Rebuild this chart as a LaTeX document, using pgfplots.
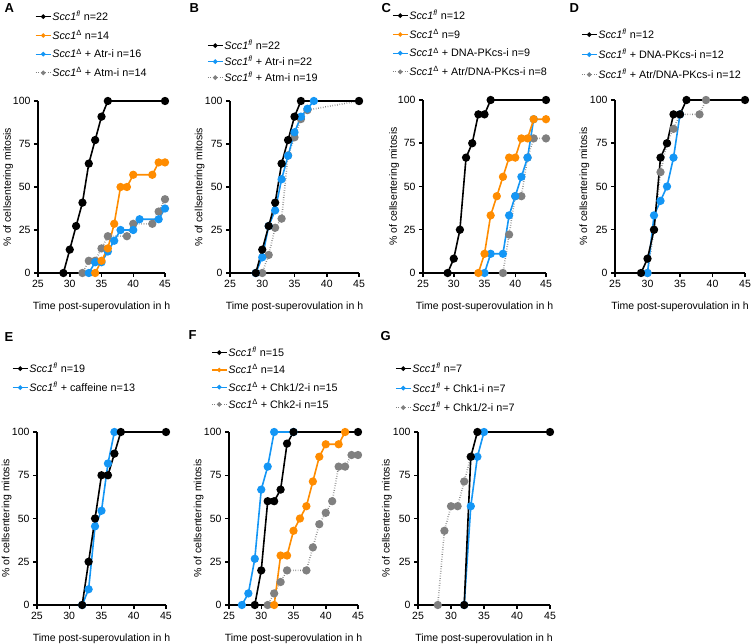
\documentclass[border=0pt]{standalone}
\usepackage{fontspec}
\setmainfont{Liberation Sans}
\usepackage{pgfplots}
\pgfplotsset{compat=1.18}
\definecolor{corg}{RGB}{255,140,0}
\definecolor{cblu}{RGB}{20,150,245}
\definecolor{cgry}{RGB}{128,128,128}
\newcommand{\fl}{\textit{Scc1}\textsuperscript{\textit{fl}}}
\newcommand{\dl}{\textit{Scc1}\textsuperscript{Δ}}
\pgfplotsset{
  panel/.style={
    scale only axis, anchor=south west,
    axis x line*=bottom, axis y line*=left,
    xmin=25, xmax=45, ymin=0, ymax=100,
    xtick={25,30,35,40,45}, ytick={0,25,50,75,100},
    tick align=outside, major tick length=4pt,
    axis line style={line width=1.8pt},
    every tick/.style={black, line width=1.5pt},
    clip=false,
    /pgf/number format/assume math mode=true,
    tick label style={font=\fontsize{10.5}{12}\selectfont},
    label style={font=\fontsize{10.5}{12}\selectfont},
    xlabel={Time post-superovulation in h},
    ylabel={\% of cellsentering mitosis},
    xlabel style={at={(axis description cs:0.5,-0.197)}, anchor=center},
    ylabel style={at={(axis description cs:-0.235,0.5)}, anchor=center},
    legend style={draw=none, fill=none, font=\fontsize{10.8}{12}\selectfont,
      at={(0,1)}, anchor=north west, inner sep=0pt, nodes={inner sep=1pt}},
    legend cell align=left,
    reverse legend,
    legend image code/.code={\draw[mark repeat=2,mark phase=2,##1, line width=1.1pt, mark size=1.7pt] plot coordinates {(0pt,0pt) (7.5pt,0pt) (15pt,0pt)};},
  },
  sblk/.style={black, line width=1.6pt, mark=*, mark size=3.3pt},
  sorg/.style={corg, line width=1.6pt, mark=*, mark size=3.3pt},
  sblu/.style={cblu, line width=1.6pt, mark=*, mark size=3.3pt},
  sgry/.style={cgry, line width=1.6pt, dash pattern=on 0.6pt off 1.8pt, mark=*, mark size=3.3pt, mark options={solid}},
}
\begin{document}
\begin{tikzpicture}
\path[use as bounding box] (0,0) rectangle (751pt,643pt);
\node[anchor=west, font=\bfseries\fontsize{13}{14}\selectfont] at (1pt,635pt) {A};
\node[anchor=west, font=\bfseries\fontsize{13}{14}\selectfont] at (186pt,635pt) {B};
\node[anchor=west, font=\bfseries\fontsize{13}{14}\selectfont] at (378pt,635pt) {C};
\node[anchor=west, font=\bfseries\fontsize{13}{14}\selectfont] at (566pt,635pt) {D};
\node[anchor=west, font=\bfseries\fontsize{13}{14}\selectfont] at (1pt,306pt) {E};
\node[anchor=west, font=\bfseries\fontsize{13}{14}\selectfont] at (185pt,308pt) {F};
\node[anchor=west, font=\bfseries\fontsize{13}{14}\selectfont] at (377pt,307pt) {G};

% ---------- A
\begin{axis}[panel, at={(38pt,370pt)}, width=127pt, height=172pt,
  legend style={xshift=-3pt, yshift=91pt, row sep=6pt}]
\addplot[sgry] coordinates {(32,0)(33,7.1)(34,7.1)(35,14.3)(36,21.4)(39,21.4)(40,28.6)(43,28.6)(44,35.7)(45,42.9)};
\addlegendentry{\dl\ + Atm-i n=14}
\addplot[sblu] coordinates {(33,0)(34,6.25)(35,6.25)(36,12.5)(37,18.75)(38,25)(40,25)(41,31.25)(44,31.25)(45,37.5)};
\addlegendentry{\dl\ + Atr-i n=16}
\addplot[sorg] coordinates {(34,0)(35,7.1)(36,14.3)(37,28.6)(38,50)(39,50)(40,57.1)(43,57.1)(44,64.3)(45,64.3)};
\addlegendentry{\dl\ n=14}
\addplot[sblk] coordinates {(29,0)(30,13.6)(31,27.3)(32,40.9)(33,63.6)(34,77.3)(35,90.9)(36,100)(45,100)};
\addlegendentry{\fl\ n=22}
\end{axis}

% ---------- B
\begin{axis}[panel, at={(230pt,370pt)}, width=129pt, height=172pt,
  legend style={xshift=-23pt, yshift=62pt, row sep=3pt}]
\addplot[sgry] coordinates {(30,0)(31,10.5)(32,26.3)(33,31.6)(34,68.4)(35,78.9)(36,89.5)(37,94.7)(45,100)};
\addlegendentry{\fl\ + Atm-i n=19}
\addplot[sblu] coordinates {(29,0)(30,9.1)(31,27.3)(32,36.4)(33,54.5)(34,68.2)(35,81.8)(36,90.9)(37,95.5)(38,100)};
\addlegendentry{\fl\ + Atr-i n=22}
\addplot[sblk] coordinates {(29,0)(30,13.6)(31,27.3)(32,40.9)(33,63.6)(34,77.3)(35,90.9)(36,100)(45,100)};
\addlegendentry{\fl\ n=22}
\end{axis}

% ---------- C
\begin{axis}[panel, at={(423pt,370pt)}, width=123pt, height=173pt,
  legend style={xshift=-31pt, yshift=91pt, row sep=6pt}]
\addplot[sgry] coordinates {(38,0)(39,22.2)(40,44.4)(41,44.4)(42,66.7)(43,77.8)(45,77.8)};
\addlegendentry{\dl\ + Atr/DNA-PKcs-i n=8}
\addplot[sblu] coordinates {(35,0)(36,11.1)(38,11.1)(39,33.3)(40,44.4)(41,55.6)(42,66.7)(43,88.9)};
\addlegendentry{\dl\ + DNA-PKcs-i n=9}
\addplot[sorg] coordinates {(34,0)(35,11.1)(36,33.3)(37,44.4)(38,55.6)(39,66.7)(40,66.7)(41,77.8)(42,77.8)(43,88.9)(45,88.9)};
\addlegendentry{\dl\ n=9}
\addplot[sblk] coordinates {(29,0)(30,8.3)(31,25)(32,66.7)(33,75)(34,91.7)(35,91.7)(36,100)(45,100)};
\addlegendentry{\fl\ n=12}
\end{axis}

% ---------- D
\begin{axis}[panel, at={(615pt,370pt)}, width=130pt, height=173pt,
  legend style={xshift=-34pt, yshift=72pt, row sep=7pt}]
\addplot[sgry] coordinates {(30,0)(31,25)(32,58.3)(33,75)(34,83.3)(35,91.7)(38,91.7)(39,100)};
\addlegendentry{\fl\ + Atr/DNA-PKcs-i n=12}
\addplot[sblu] coordinates {(30,0)(31,33.3)(32,41.7)(33,50)(34,66.7)(35,91.7)};
\addlegendentry{\fl\ + DNA-PKcs-i n=12}
\addplot[sblk] coordinates {(29,0)(30,8.3)(31,25)(32,66.7)(33,75)(34,91.7)(35,91.7)(36,100)(45,100)};
\addlegendentry{\fl\ n=12}
\end{axis}

% ---------- E
\begin{axis}[panel, at={(37pt,38pt)}, width=129pt, height=173pt,
  legend style={xshift=-25pt, yshift=70pt, row sep=6pt}]
\addplot[sblu] coordinates {(32,0)(33,9.1)(34,45.5)(35,54.5)(36,81.8)(37,100)};
\addlegendentry{\fl\ + caffeine n=13}
\addplot[sblk] coordinates {(32,0)(33,25)(34,50)(35,75)(36,75)(37,87.5)(38,100)(45,100)};
\addlegendentry{\fl\ n=19}
\end{axis}

% ---------- F
\begin{axis}[panel, at={(229pt,38pt)}, width=129pt, height=173pt,
  legend style={xshift=-18pt, yshift=86pt, row sep=4.5pt}]
\addplot[sgry] coordinates {(31,0)(32,6.7)(33,13.3)(34,20)(37,20)(38,33.3)(39,46.7)(40,53.3)(41,60)(42,80)(43,80)(44,86.7)(45,86.7)};
\addlegendentry{\dl\ + Chk2-i n=15}
\addplot[sblu] coordinates {(27,0)(28,6.7)(29,26.7)(30,66.7)(31,80)(32,100)(35,100)};
\addlegendentry{\dl\ + Chk1/2-i n=15}
\addplot[sorg] coordinates {(32,0)(33,28.6)(34,28.6)(35,42.9)(36,50)(37,57.1)(38,71.4)(39,85.7)(40,92.9)(42,92.9)(43,100)};
\addlegendentry{\dl\ n=14}
\addplot[sblk] coordinates {(29,0)(30,20)(31,60)(32,60)(33,66.7)(34,93.3)(35,100)(45,100)};
\addlegendentry{\fl\ n=15}
\end{axis}

% ---------- G
\begin{axis}[panel, at={(418pt,38pt)}, width=132pt, height=173pt,
  legend style={xshift=-23pt, yshift=70pt, row sep=6.5pt}]
\addplot[sgry] coordinates {(28,0)(29,42.9)(30,57.1)(31,57.1)(32,71.4)(33,85.7)};
\addlegendentry{\fl\ + Chk1/2-i n=7}
\addplot[sblu] coordinates {(32,0)(33,57.1)(34,85.7)(35,100)};
\addlegendentry{\fl\ + Chk1-i n=7}
\addplot[sblk] coordinates {(32,0)(33,85.7)(34,100)(45,100)};
\addlegendentry{\fl\ n=7}
\end{axis}
\end{tikzpicture}
\end{document}
